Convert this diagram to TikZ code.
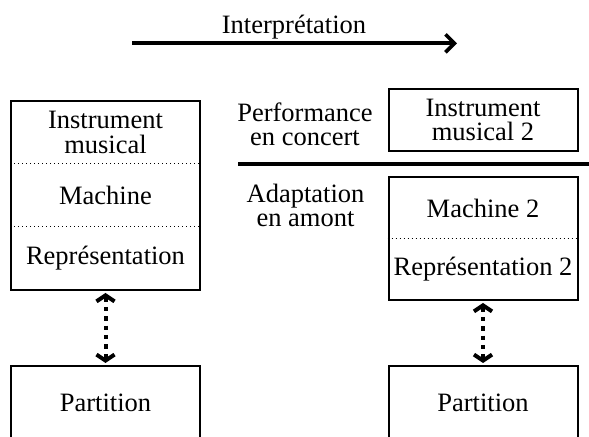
\documentclass[tikz,border=0pt]{standalone}
\usepackage{fontspec}
\setmainfont{Liberation Serif}
\usetikzlibrary{arrows.meta}
\begin{document}
\begin{tikzpicture}[x=0.5pt,y=-0.5pt,
  every node/.style={font=\fontsize{13.25}{12.2}\selectfont, inner sep=0pt},
  box/.style={draw, line width=1pt, minimum width=94.5pt},
  lbl/.style={align=center},
  sep/.style={line width=0.5pt, dash pattern=on 0.5pt off 1.5pt},
  link/.style={line width=2pt, dash pattern=on 2.2pt off 2.5pt,
    shorten <=1pt, shorten >=1pt,
    {Straight Barb[length=3pt,width=9pt]}-{Straight Barb[length=3pt,width=9pt]}},
  timeline/.style={line width=1.8pt, -{Straight Barb[length=4.5pt,width=9pt]}}]
\useasboundingbox (0,0) rectangle (589,437);
\clip (0,0) rectangle (589,437);
% left column
\node[box, minimum height=94.5pt] (lbox) at (105.5,195.5) {};
\node[lbl] (linst) at (105.5,132.5) {Instrument\\musical};
\node (lmach) at (105.5,195.5) {Machine};
\node (lrep) at (105.5,258.5) {Représentation};
\draw[sep] (lbox.west |- 0,164) -- (lbox.east |- 0,164);
\draw[sep] (lbox.west |- 0,227) -- (lbox.east |- 0,227);
\node[box, minimum height=37pt] (lpart) at (105.5,403) {Partition};
\draw[link] (lbox.south) -- (lpart.north);
% right column
\node[box, minimum height=31pt, lbl] (rinst) at (483,120) {Instrument\\musical 2};
\node[box, minimum height=61.5pt] (rbox) at (483,238.5) {};
\node (rmach) at (483,208) {Machine 2};
\node (rrep) at (483,269.5) {Représentation 2};
\draw[sep] (rbox.west |- 0,238.5) -- (rbox.east |- 0,238.5);
\node[box, minimum height=37pt] (rpart) at (483,403) {Partition};
\draw[link] (rbox.south) -- (rpart.north);
% labels
\node[lbl] (perf) at (305,124.2) {Performance\\en concert};
\node[lbl] (adapt) at (305.5,205.5) {Adaptation\\en amont};
\coordinate (s1) at (238,164);
\coordinate (s2) at (589,164);
\draw[line width=2.2pt] (s1) -- (s2);
% top arrow
\node (interp) at (294,27.2) {Interprétation};
\coordinate (a1) at (132,43.3);
\coordinate (a2) at (457,43.3);
\draw[timeline] (a1) -- (a2);
\end{tikzpicture}
\end{document}
